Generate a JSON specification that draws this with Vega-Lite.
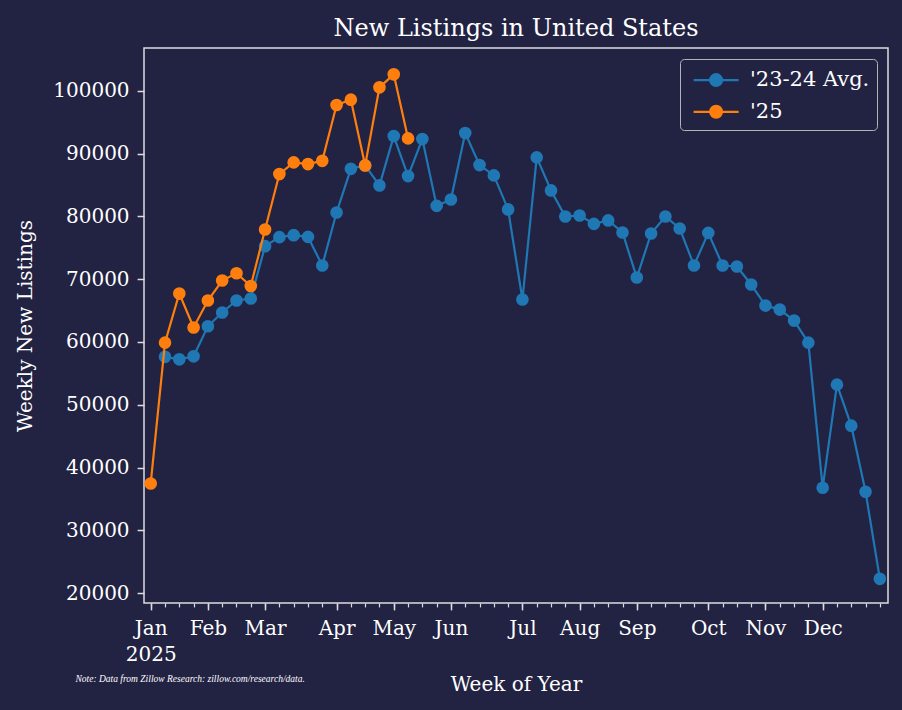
{
  "$schema": "https://vega.github.io/schema/vega-lite/v6.json",
  "width": 744,
  "height": 555,
  "autosize": {"type": "none"},
  "padding": {"left": 144, "top": 48, "right": 14, "bottom": 107},
  "background": "#222243",
  "title": {
    "text": "New Listings in United States",
    "font": "DejaVu Serif",
    "fontSize": 24,
    "fontWeight": "normal",
    "color": "#ffffff",
    "anchor": "middle",
    "frame": "group",
    "baseline": "alphabetic",
    "offset": 12,
    "dy": 24
  },
  "config": {
    "view": {"stroke": "#dddddd", "strokeWidth": 1.5},
    "axis": {
      "labelFont": "DejaVu Serif",
      "labelFontSize": 20,
      "labelColor": "#ffffff",
      "titleFont": "DejaVu Serif",
      "titleFontSize": 20,
      "titleFontWeight": "normal",
      "titleColor": "#ffffff",
      "tickColor": "#dddddd",
      "domain": false,
      "grid": false,
      "labelFlush": false,
      "labelOverlap": false
    }
  },
  "datasets": {
    "listings": [
      {"series": "'23-24 Avg.", "week": 1, "listings": 57640},
      {"series": "'23-24 Avg.", "week": 2, "listings": 57240},
      {"series": "'23-24 Avg.", "week": 3, "listings": 57720},
      {"series": "'23-24 Avg.", "week": 4, "listings": 62500},
      {"series": "'23-24 Avg.", "week": 5, "listings": 64690},
      {"series": "'23-24 Avg.", "week": 6, "listings": 66600},
      {"series": "'23-24 Avg.", "week": 7, "listings": 66920},
      {"series": "'23-24 Avg.", "week": 8, "listings": 75250},
      {"series": "'23-24 Avg.", "week": 9, "listings": 76690},
      {"series": "'23-24 Avg.", "week": 10, "listings": 77000},
      {"series": "'23-24 Avg.", "week": 11, "listings": 76730},
      {"series": "'23-24 Avg.", "week": 12, "listings": 72180},
      {"series": "'23-24 Avg.", "week": 13, "listings": 80620},
      {"series": "'23-24 Avg.", "week": 14, "listings": 87570},
      {"series": "'23-24 Avg.", "week": 15, "listings": 88110},
      {"series": "'23-24 Avg.", "week": 16, "listings": 84920},
      {"series": "'23-24 Avg.", "week": 17, "listings": 92780},
      {"series": "'23-24 Avg.", "week": 18, "listings": 86410},
      {"series": "'23-24 Avg.", "week": 19, "listings": 92300},
      {"series": "'23-24 Avg.", "week": 20, "listings": 81670},
      {"series": "'23-24 Avg.", "week": 21, "listings": 82690},
      {"series": "'23-24 Avg.", "week": 22, "listings": 93260},
      {"series": "'23-24 Avg.", "week": 23, "listings": 88160},
      {"series": "'23-24 Avg.", "week": 24, "listings": 86520},
      {"series": "'23-24 Avg.", "week": 25, "listings": 81100},
      {"series": "'23-24 Avg.", "week": 26, "listings": 66760},
      {"series": "'23-24 Avg.", "week": 27, "listings": 89390},
      {"series": "'23-24 Avg.", "week": 28, "listings": 84130},
      {"series": "'23-24 Avg.", "week": 29, "listings": 79980},
      {"series": "'23-24 Avg.", "week": 30, "listings": 80140},
      {"series": "'23-24 Avg.", "week": 31, "listings": 78800},
      {"series": "'23-24 Avg.", "week": 32, "listings": 79350},
      {"series": "'23-24 Avg.", "week": 33, "listings": 77430},
      {"series": "'23-24 Avg.", "week": 34, "listings": 70260},
      {"series": "'23-24 Avg.", "week": 35, "listings": 77270},
      {"series": "'23-24 Avg.", "week": 36, "listings": 79980},
      {"series": "'23-24 Avg.", "week": 37, "listings": 78070},
      {"series": "'23-24 Avg.", "week": 38, "listings": 72180},
      {"series": "'23-24 Avg.", "week": 39, "listings": 77370},
      {"series": "'23-24 Avg.", "week": 40, "listings": 72180},
      {"series": "'23-24 Avg.", "week": 41, "listings": 72020},
      {"series": "'23-24 Avg.", "week": 42, "listings": 69150},
      {"series": "'23-24 Avg.", "week": 43, "listings": 65800},
      {"series": "'23-24 Avg.", "week": 44, "listings": 65160},
      {"series": "'23-24 Avg.", "week": 45, "listings": 63410},
      {"series": "'23-24 Avg.", "week": 46, "listings": 59900},
      {"series": "'23-24 Avg.", "week": 47, "listings": 36800},
      {"series": "'23-24 Avg.", "week": 48, "listings": 53210},
      {"series": "'23-24 Avg.", "week": 49, "listings": 46680},
      {"series": "'23-24 Avg.", "week": 50, "listings": 36160},
      {"series": "'23-24 Avg.", "week": 51, "listings": 22300},
      {"series": "'25", "week": 0, "listings": 37480},
      {"series": "'25", "week": 1, "listings": 59900},
      {"series": "'25", "week": 2, "listings": 67710},
      {"series": "'25", "week": 3, "listings": 62300},
      {"series": "'25", "week": 4, "listings": 66600},
      {"series": "'25", "week": 5, "listings": 69790},
      {"series": "'25", "week": 6, "listings": 70950},
      {"series": "'25", "week": 7, "listings": 68920},
      {"series": "'25", "week": 8, "listings": 77910},
      {"series": "'25", "week": 9, "listings": 86730},
      {"series": "'25", "week": 10, "listings": 88590},
      {"series": "'25", "week": 11, "listings": 88320},
      {"series": "'25", "week": 12, "listings": 88840},
      {"series": "'25", "week": 13, "listings": 97720},
      {"series": "'25", "week": 14, "listings": 98570},
      {"series": "'25", "week": 15, "listings": 88110},
      {"series": "'25", "week": 16, "listings": 100540},
      {"series": "'25", "week": 17, "listings": 102610},
      {"series": "'25", "week": 18, "listings": 92410}
    ]
  },
  "data": {"name": "listings"},
  "encoding": {
    "y": {
      "field": "listings",
      "type": "quantitative",
      "scale": {"domain": [18450, 106800], "nice": false, "zero": false},
      "axis": {
        "values": [20000, 30000, 40000, 50000, 60000, 70000, 80000, 90000, 100000],
        "format": "d",
        "tickSize": 6.9,
        "tickWidth": 1.5,
        "labelPadding": 8,
        "title": "Weekly New Listings",
        "titleX": -119,
        "titleY": 277.5,
        "titleAngle": -90,
        "titleBaseline": "middle",
        "titleAlign": "center"
      }
    },
    "color": {
      "field": "series",
      "type": "nominal",
      "scale": {"domain": ["'23-24 Avg.", "'25"], "range": ["#1f77b4", "#ff7f0e"]},
      "legend": {
        "title": null,
        "orient": "top-right",
        "offset": 11,
        "symbolType": "M-1.8,0L1.8,0M0.472,0A0.472,0.472,0,1,1,-0.472,0A0.472,0.472,0,1,1,0.472,0Z",
        "symbolSize": 625,
        "symbolStrokeWidth": 2.2,
        "symbolOffset": 15,
        "labelOffset": 19.9,
        "rowPadding": 6.7,
        "padding": 7.1,
        "labelFont": "DejaVu Serif",
        "labelFontSize": 21,
        "labelColor": "#ffffff",
        "labelLimit": 300,
        "strokeColor": "#b3b3b3",
        "fillColor": "#222243",
        "cornerRadius": 4,
        "encode": {
          "symbols": {
            "update": {
              "fill": {"scale": "color", "field": "value"},
              "stroke": {"scale": "color", "field": "value"},
              "opacity": {"value": 1},
              "fillOpacity": {"value": 1}
            }
          }
        }
      }
    }
  },
  "layer": [
    {
      "transform": [{"filter": {"field": "series", "equal": "'23-24 Avg."}}],
      "mark": {"type": "line", "strokeWidth": 2.2, "point": {"filled": true, "size": 160, "opacity": 1}},
      "encoding": {
        "x": {
          "field": "week",
          "type": "quantitative",
          "scale": {"domain": [-0.469, 51.57], "nice": false, "zero": false},
          "axis": {
            "orient": "bottom",
            "values": [0, 4, 8, 13, 17, 21, 26, 30, 34, 39, 43, 47],
            "labelExpr": "datum.value == 0 ? ['Jan', '2025'] : ['Jan','Feb','Mar','Apr','May','Jun','Jul','Aug','Sep','Oct','Nov','Dec'][indexof([0,4,8,13,17,21,26,30,34,39,43,47], datum.value)]",
            "tickSize": 6.9,
            "tickWidth": 1.5,
            "labelPadding": 9,
            "labelBaseline": "top",
            "labelLineHeight": 25.5,
            "title": "Week of Year",
            "titleX": 372,
            "titleY": 87.3,
            "titleBaseline": "alphabetic",
            "titleAlign": "center"
          }
        }
      }
    },
    {
      "transform": [{"filter": {"field": "series", "equal": "'25"}}],
      "mark": {"type": "line", "strokeWidth": 2.2, "point": {"filled": true, "size": 160, "opacity": 1}},
      "encoding": {
        "x": {
          "field": "week",
          "type": "quantitative",
          "axis": {
            "orient": "bottom",
            "values": [0,1,2,3,4,5,6,7,8,9,10,11,12,13,14,15,16,17,18,19,20,21,22,23,24,25,26,27,28,29,30,31,32,33,34,35,36,37,38,39,40,41,42,43,44,45,46,47,48,49,50,51],
            "labels": false,
            "tickSize": 3.9,
            "tickWidth": 1.2,
            "title": "Note: Data from Zillow Research: zillow.com/research/data.",
            "titleFont": "Liberation Serif",
            "titleFontStyle": "italic",
            "titleFontSize": 9.5,
            "titleX": -69,
            "titleY": 78.3,
            "titleAlign": "left",
            "titleBaseline": "alphabetic"
          }
        }
      }
    }
  ],
  "resolve": {"axis": {"x": "independent"}}
}
